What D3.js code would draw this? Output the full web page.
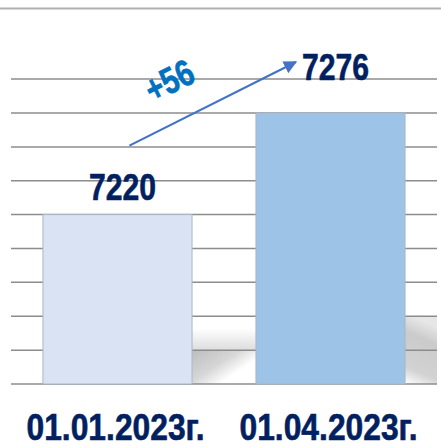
<!DOCTYPE html>
<html>
<head>
<meta charset="utf-8">
<script src="https://cdn.jsdelivr.net/npm/d3@7"></script>
<style>
  body { margin: 0; background: #fff; }
  svg { display: block; }
  .lbl { font-family: "Liberation Sans Narrow", "Arial Narrow", "Liberation Sans", sans-serif; font-weight: bold; }
</style>
</head>
<body>
<svg id="chart" width="441" height="448"></svg>
<script>
// data
const categories = ["01.01.2023г.", "01.04.2023г."];
const values = [7220, 7276];
const gridTicks = [7126.7, 7145.3, 7164, 7182.7, 7201.3, 7220, 7238.7, 7257.3, 7276, 7294.7];

const svg = d3.select("#chart");
const left = 11, right = 437, base = 384;

const x = d3.scaleBand().domain(categories).range([left, right])
    .paddingInner(0.3).paddingOuter(0.15);
const y = d3.scaleLinear().domain([gridTicks[0], gridTicks[gridTicks.length - 1]]).range([base, 79]);

const defs = svg.append("defs");
// gradients for the shadow look
let g1 = defs.append("linearGradient").attr("id", "shA").attr("x1", 0).attr("y1", 0).attr("x2", 0).attr("y2", 1);
g1.append("stop").attr("offset", 0).attr("stop-color", "#fff");
g1.append("stop").attr("offset", 1).attr("stop-color", "#d4d4d4");
let g2 = defs.append("linearGradient").attr("id", "shB").attr("x1", 0).attr("y1", 0).attr("x2", 1).attr("y2", 0.8);
g2.append("stop").attr("offset", 0).attr("stop-color", "#bdbdbd");
g2.append("stop").attr("offset", 0.45).attr("stop-color", "#d6d6d6");
g2.append("stop").attr("offset", 0.75).attr("stop-color", "#fff");
let g3 = defs.append("linearGradient").attr("id", "shC").attr("x1", 0.2).attr("y1", 0).attr("x2", 0).attr("y2", 1);
g3.append("stop").attr("offset", 0).attr("stop-color", "#e6e6e6");
g3.append("stop").attr("offset", 0.25).attr("stop-color", "#cbcbcb");
g3.append("stop").attr("offset", 0.75).attr("stop-color", "#d2d2d2");
g3.append("stop").attr("offset", 1).attr("stop-color", "#fff");

defs.append("marker").attr("id", "arr")
    .attr("viewBox", "0 0 10 10").attr("refX", 9).attr("refY", 5)
    .attr("markerWidth", 6).attr("markerHeight", 6).attr("orient", "auto")
    .attr("markerUnits", "strokeWidth")
  .append("path").attr("d", "M0,0 L10,5 L0,10 z").attr("fill", "#4472c4");

// top border
svg.append("line")
    .attr("x1", 0).attr("x2", 441).attr("y1", 8.5).attr("y2", 8.5)
    .attr("stroke", "#b0b0b0").attr("stroke-width", 2);

// shadows between / beside bars
const b1r = x(categories[0]) + x.bandwidth();
const b2l = x(categories[1]);
const b2r = x(categories[1]) + x.bandwidth();
svg.append("rect").attr("x", b1r).attr("y", y(gridTicks[1]) - 22).attr("width", b2l - b1r).attr("height", 22)
    .attr("fill", "url(#shA)").attr("opacity", 0.8);
svg.append("rect").attr("x", b1r).attr("y", y(gridTicks[1])).attr("width", b2l - b1r).attr("height", base - y(gridTicks[1]))
    .attr("fill", "url(#shB)");
svg.append("rect").attr("x", b2r).attr("y", y(gridTicks[2])).attr("width", right - b2r).attr("height", base - y(gridTicks[2]))
    .attr("fill", "url(#shC)");

// gridlines
svg.append("g").selectAll("line").data(gridTicks).join("line")
    .attr("x1", left).attr("x2", right)
    .attr("y1", d => y(d)).attr("y2", d => y(d))
    .attr("stroke", "#8c8c8c").attr("stroke-width", 1.5);

// bars
const fills = ["#dae3f3", "#9dc3e6"];
svg.append("g").selectAll("rect").data(values).join("rect")
    .attr("x", (d, i) => x(categories[i]))
    .attr("y", d => y(d))
    .attr("width", x.bandwidth())
    .attr("height", d => base - y(d))
    .attr("fill", (d, i) => fills[i])
    .attr("stroke", "#aab6c8").attr("stroke-width", 1);

// value labels (narrow look via textLength)
svg.append("g").selectAll("text").data(values).join("text")
    .attr("class", "lbl")
    .attr("x", (d, i) => x(categories[i]) + x.bandwidth() / 2 + 5)
    .attr("y", (d, i) => i == 0 ? y(d) - 15 : y(d) - 33)
    .attr("text-anchor", "middle")
    .attr("font-size", 37).attr("fill", "#002060")
    .attr("stroke", "#002060").attr("stroke-width", 0.6)
    .attr("textLength", 67).attr("lengthAdjust", "spacingAndGlyphs")
    .text(d => d);

// category labels
svg.append("g").selectAll("text").data(categories).join("text")
    .attr("class", "lbl")
    .attr("x", d => x(d) + x.bandwidth() / 2 - 2)
    .attr("y", 440)
    .attr("text-anchor", "middle")
    .attr("font-size", 36).attr("fill", "#002060")
    .attr("stroke", "#002060").attr("stroke-width", 0.6)
    .attr("textLength", 178).attr("lengthAdjust", "spacingAndGlyphs")
    .text(d => d);

// growth arrow
const ax1 = x(categories[0]) + x.bandwidth() * 0.58, ay1 = y(values[0]) - 69;
const ax2 = x(categories[1]) + 40, ay2 = y(values[1]) - 51;
svg.append("line")
    .attr("x1", ax1).attr("y1", ay1).attr("x2", ax2).attr("y2", ay2)
    .attr("stroke", "#4472c4").attr("stroke-width", 2.2)
    .attr("marker-end", "url(#arr)");

const diff = values[1] - values[0];
const ang = Math.atan2(ay2 - ay1, ax2 - ax1) * 180 / Math.PI;
svg.append("text")
    .attr("class", "lbl")
    .attr("transform", "translate(175,92) rotate(" + ang + ")")
    .attr("text-anchor", "middle")
    .attr("font-size", 37).attr("fill", "#0070c0")
    .attr("stroke", "#0070c0").attr("stroke-width", 0.6)
    .attr("textLength", 50).attr("lengthAdjust", "spacingAndGlyphs")
    .text("+" + diff);
</script>
</body>
</html>
